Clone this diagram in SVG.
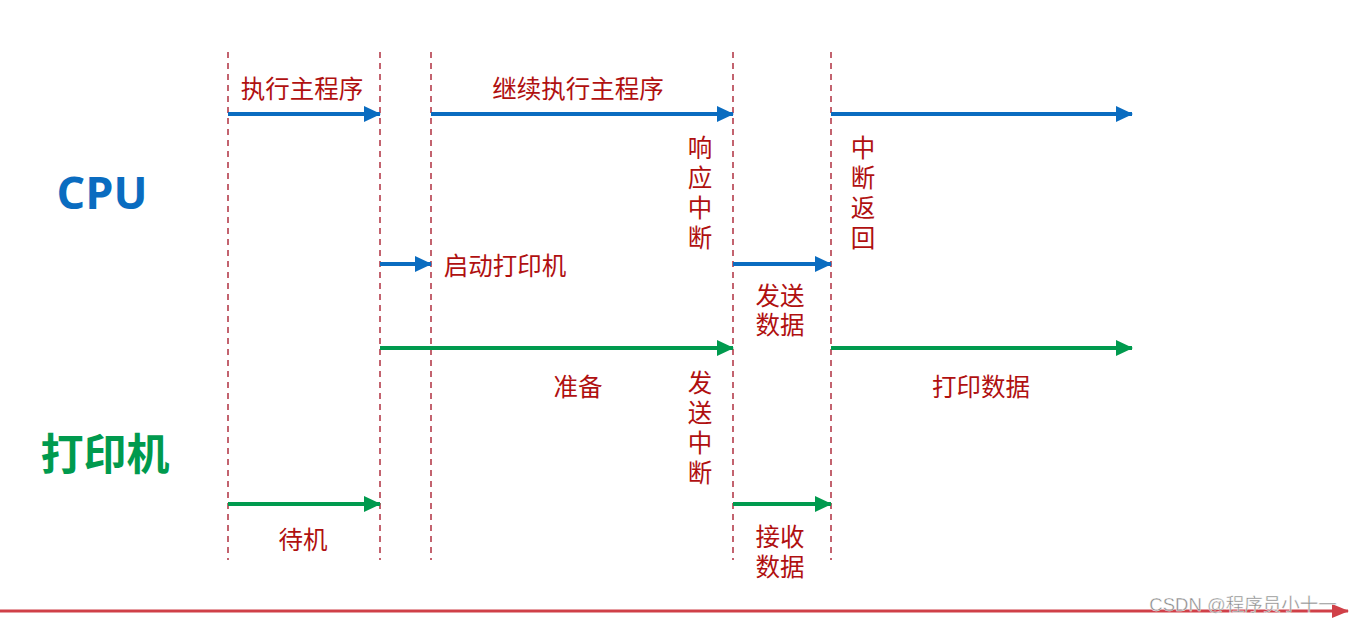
<svg xmlns="http://www.w3.org/2000/svg" width="1353" height="622" viewBox="0 0 1353 622">
<style>
.t{font-family:"Microsoft YaHei","Noto Sans CJK SC",sans-serif;font-size:24.5px;fill:#b01010;text-anchor:middle;dominant-baseline:central}
.vt{font-family:"Microsoft YaHei","Noto Sans CJK SC",sans-serif;font-size:24.5px;fill:#b01010;writing-mode:vertical-rl;letter-spacing:5.5px}
.v{stroke:#b03040;stroke-width:1.5;stroke-dasharray:6,5}
.b{stroke:#0a6cc0;stroke-width:4;fill:none}
.g{stroke:#009a4e;stroke-width:4;fill:none}
</style>
<defs>
<marker id="mb" markerUnits="userSpaceOnUse" markerWidth="18" markerHeight="16" refX="16" refY="8" orient="auto"><path d="M0,0 L17,8 L0,16 Z" fill="#0a6cc0"/></marker>
<marker id="mg" markerUnits="userSpaceOnUse" markerWidth="18" markerHeight="16" refX="16" refY="8" orient="auto"><path d="M0,0 L17,8 L0,16 Z" fill="#009a4e"/></marker>
<marker id="mr" markerUnits="userSpaceOnUse" markerWidth="18" markerHeight="16" refX="16" refY="8" orient="auto"><path d="M0,1 L17,8 L0,15 Z" fill="#d04048"/></marker>
</defs>
<rect width="1353" height="622" fill="#fff"/>
<g id="guides">
<line class="v" x1="228" y1="52" x2="228" y2="560"/>
<line class="v" x1="380" y1="52" x2="380" y2="560"/>
<line class="v" x1="431" y1="52" x2="431" y2="560"/>
<line class="v" x1="733" y1="52" x2="733" y2="560"/>
<line class="v" x1="831" y1="52" x2="831" y2="560"/>
</g>
<g id="connectors">
<line class="b" x1="228" y1="114" x2="380" y2="114" marker-end="url(#mb)"/>
<line class="b" x1="431" y1="114" x2="733" y2="114" marker-end="url(#mb)"/>
<line class="b" x1="831" y1="114" x2="1132" y2="114" marker-end="url(#mb)"/>
<line class="b" x1="380" y1="264" x2="431" y2="264" marker-end="url(#mb)"/>
<line class="b" x1="733" y1="264" x2="831" y2="264" marker-end="url(#mb)"/>
<line class="g" x1="380" y1="348" x2="733" y2="348" marker-end="url(#mg)"/>
<line class="g" x1="831" y1="348" x2="1132" y2="348" marker-end="url(#mg)"/>
<line class="g" x1="228" y1="504" x2="380" y2="504" marker-end="url(#mg)"/>
<line class="g" x1="733" y1="504" x2="831" y2="504" marker-end="url(#mg)"/>
<line x1="0" y1="611" x2="1348" y2="611" stroke="#d04048" stroke-width="3" marker-end="url(#mr)"/>
</g>
<g id="cpu"><text x="102" y="191" font-family="'Segoe UI','Open Sans',sans-serif" font-size="45" font-weight="bold" fill="#0a6cc0" text-anchor="middle" dominant-baseline="central">CPU</text></g>
<g id="printer"><text x="105" y="451" font-family="'Noto Sans CJK SC',sans-serif" font-size="43" font-weight="bold" fill="#009a4e" text-anchor="middle" dominant-baseline="central">打印机</text></g>
<g id="labels">
<text class="t" x="302" y="87">执行主程序</text>
<text class="t" x="578" y="87">继续执行主程序</text>
<text class="t" x="505" y="264">启动打印机</text>
<text class="vt" x="700" y="135">响应中断</text>
<text class="vt" x="863" y="135">中断返回</text>
<text class="t" x="780" y="294">发送<tspan x="780" dy="29">数据</tspan></text>
<text class="t" x="578" y="385">准备</text>
<text class="t" x="981" y="385">打印数据</text>
<text class="vt" x="700" y="370">发送中断</text>
<text class="t" x="303" y="538">待机</text>
<text class="t" x="780" y="535">接收<tspan x="780" dy="30">数据</tspan></text>
</g>
<g id="watermark"><text x="1243" y="604" font-family="'Liberation Sans','Noto Sans CJK SC',sans-serif" font-size="18.5" fill="#888" stroke="#fff" stroke-width="0.4" text-anchor="middle" dominant-baseline="central">CSDN @程序员小十一</text></g>
</svg>
